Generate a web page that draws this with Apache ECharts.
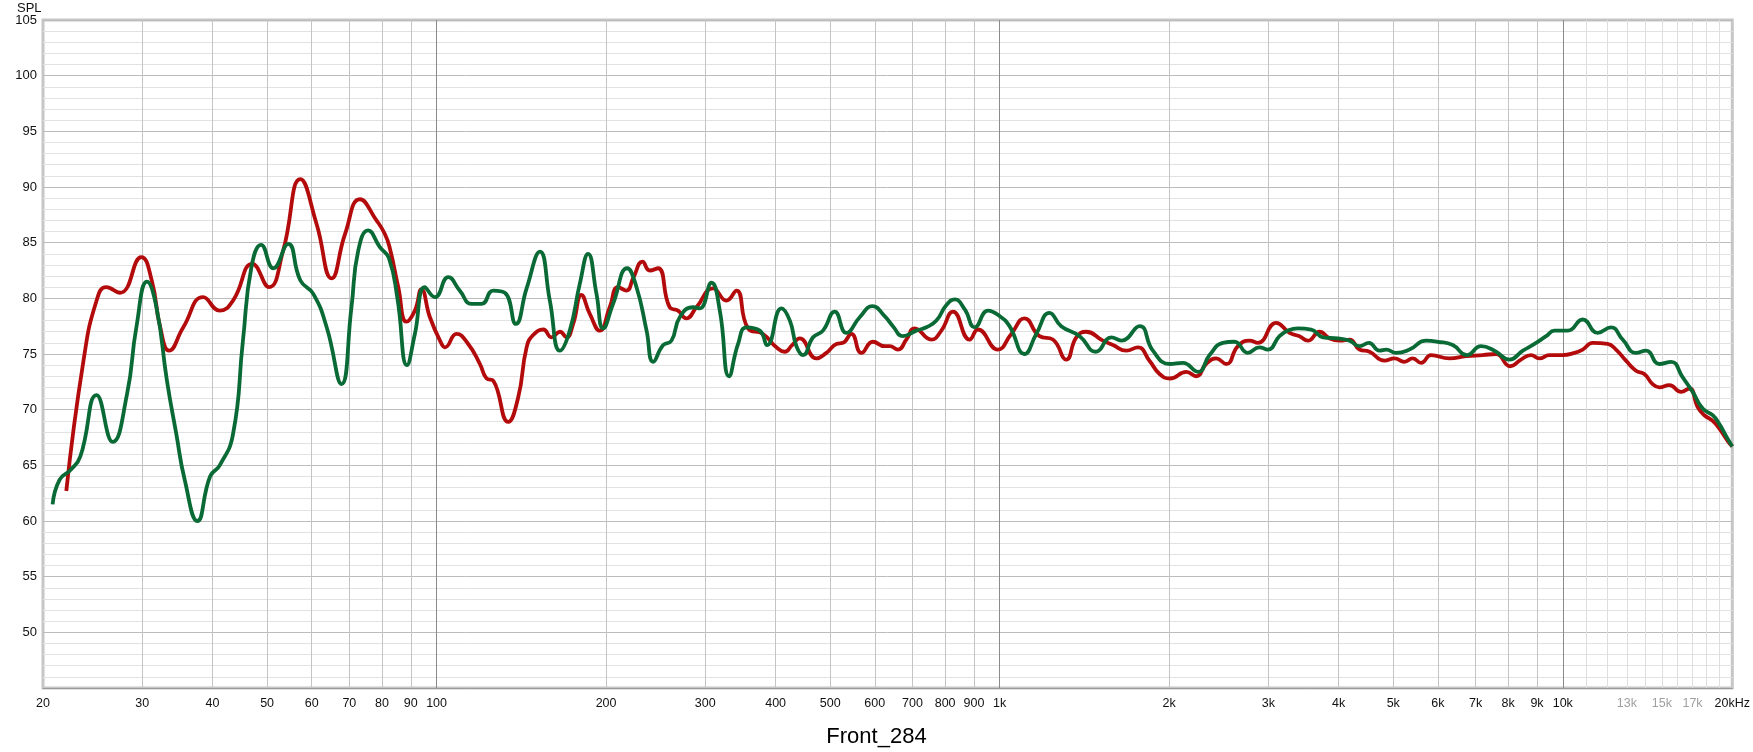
<!DOCTYPE html>
<html>
<head>
<meta charset="utf-8">
<script src="https://cdn.jsdelivr.net/npm/echarts@6/dist/echarts.min.js"></script>
<style>
  html, body { margin: 0; padding: 0; background: #ffffff; }
  #chart { width: 1753px; height: 752px; }
</style>
</head>
<body>
<div id="chart"></div>
<script>
// ---- data ----
const redFreq = [22.0,23.6,24.9,25.9,27.4,29.9,31.2,32.3,33.5,35.5,38.5,41.2,43.5,47.1,50.4,53.4,57.3,61.2,65.1,68.8,73.1,78.2,80.9,82.6,85.5,88.4,91.5,94.0,97.3,101.4,103.5,108.5,113.8,119.4,122.7,126.1,134.0,139.6,144.5,148.4,154.7,160.0,165.6,170.1,174.8,180.8,187.1,194.9,203,210,217.4,223.4,232.1,239.1,247.3,259.4,268.4,277.7,289.4,309.7,327.1,340.8,357.4,379.9,401.3,415.2,428,441.5,472.6,492.3,513,526.9,545.2,568,595.6,624.7,637.6,659.6,682.8,706.3,756.2,787.8,826.1,884.5,915,992.6,1048.6,1107,1177,1242.7,1313,1368,1425,1525,1589,1678,1760,1845,1923,2006,2145,2234,2326,2424,2525,2649,2777,2874,3098,3272,3408,3526,3699,3854,4014,4181,4355,4537,4823,5024,5233,5415,5603,5837,6291,6735,7208,7611,8068,8429,8781,9086,9465,9995,10486,10849,11303,12014,12430,12950,13490,13957,14440,14840,15460,16220,16780,17370,17840,18460,18970,19620,20000];
const redSpl = [62.7,74.4,79.8,81.0,80.5,83.7,81.6,77.4,75.3,77.4,80.1,78.9,79.8,83.1,81.0,84.3,90.7,86.7,81.8,85.8,88.9,87.0,85.8,84.5,81.0,77.9,78.9,80.8,78.3,76.2,75.6,76.8,75.9,74.1,72.8,72.6,68.9,71.1,75.6,76.7,77.2,76.5,77.0,76.5,77.7,80.3,78.6,77.1,79.2,81.0,80.7,81.8,83.3,82.5,82.7,79.2,78.9,78.2,79.2,80.9,79.8,80.7,77.3,76.8,75.6,75.2,75.8,76.4,74.6,75.1,75.9,76.0,76.8,75.1,76.1,75.7,75.7,75.4,76.3,77.3,76.3,77.1,78.8,76.3,77.2,75.4,76.8,78.2,76.6,76.3,74.5,76.5,77.0,76.2,75.8,75.3,75.6,74.4,73.2,72.8,73.4,73.0,74.1,74.6,74.1,75.7,76.2,76.0,77.8,76.9,76.6,76.2,77.0,76.4,76.2,76.3,75.4,75.2,74.4,74.6,74.3,74.6,74.2,74.9,74.6,74.8,74.9,75.0,73.9,74.5,74.9,74.6,74.9,74.9,75.1,75.4,76.0,75.9,75.4,74.4,73.5,73.2,72.3,72.0,72.2,71.6,71.9,70.2,69.5,69.0,68.3,67.2,66.7];

const greenFreq = [20.8,21.4,22.4,23.3,24.9,26.6,28.2,29.3,30.6,31.8,33.2,34.5,35.7,37.6,39.6,41.2,43.5,45.3,46.9,48.8,51.3,54.5,57.3,60.4,63.8,67.8,70.6,72.6,75.6,79.3,82.3,85.2,88.6,91.5,95.3,99.3,104.9,109.9,115.4,120.2,126.1,132.2,138.3,144.5,152.6,158.9,165.6,172.4,179.6,185.8,192.3,197.6,205.8,218,226.5,236,242.5,252.6,261.3,270.3,285.5,293.4,307.7,318.4,330.7,343.1,355.1,375,386.4,409.7,424,435.6,447.6,466.2,485.5,509.3,534.2,564.2,594.3,624.7,646.2,673.2,711.2,741,772,804.3,832,867,903,953.6,1000,1041,1107,1161.5,1226,1286,1387,1481,1579,1645,1773,1871,2006,2115,2250,2359,2491,2612,2759,2893,2993,3140,3249,3385,3575,3750,3988,4181,4355,4525,4726,4856,5058,5343,5715,5997,6377,6755,7160,7562,8038,8493,8907,9342,9665,10208,10849,11535,12179,12773,13490,14053,14840,15570,16330,17010,17720,18460,18970,19620,20000];
const greenSpl = [61.5,63.7,64.6,65.8,71.3,67.1,71.4,77.4,81.5,79.2,72.6,67.8,63.7,60.0,64.0,65.0,67.8,76.2,82.8,84.8,82.7,84.9,81.6,80.4,77.4,72.3,79.2,84.3,86.1,84.6,83.6,80.0,74.0,76.8,81.0,80.1,81.9,80.7,79.5,79.5,80.7,80.5,77.7,80.9,84.2,79.8,75.3,77.1,81.3,84.0,80.4,77.3,79.5,82.7,81.0,77.1,74.3,75.8,76.2,78.3,79.2,79.1,81.4,78.9,73.0,75.9,77.4,77.1,75.8,79.1,78.0,75.7,74.9,76.5,77.1,78.8,76.9,78.3,79.3,78.4,77.5,76.6,77.1,77.4,78.0,79.4,79.9,79.0,77.4,78.9,78.4,77.5,75.0,76.8,78.7,77.5,76.6,75.2,76.5,76.2,77.5,75.3,74.1,74.2,73.4,74.9,76.0,76.1,75.1,75.6,75.4,76.6,77.1,77.3,77.2,76.5,76.4,76.2,75.7,76.0,75.3,75.4,75.1,75.4,76.2,76.1,75.8,74.9,75.7,75.3,74.5,75.3,75.9,76.6,77.1,77.1,78.1,76.9,77.4,76.3,75.1,75.3,74.1,74.3,72.9,71.6,70.1,69.5,68.7,67.4,66.7];

const xLabelFreqs = [20,30,40,50,60,70,80,90,100,200,300,400,500,600,700,800,900,1000,2000,3000,4000,5000,6000,7000,8000,9000,10000,13000,15000,17000,20000];
const greyLabelFreqs = [13000,15000,17000];
const gridFreqs = [30,40,50,60,70,80,90,200,300,400,500,600,700,800,900,2000,3000,4000,5000,6000,7000,8000,9000];
const decadeFreqs = [100,1000,10000];
const fineFreqs = [11000,12000,13000,14000,15000,16000,17000,18000,19000];
const yMin = 45, yMax = 105, yStep = 5;

// ---- build ----
const zip = (a, b) => a.map((f, i) => [f, b[i]]);
const fmtFreq = v => {
  const f = Math.round(v);
  let s;
  if (f >= 20000) return '{b|20kHz}';
  if (f >= 1000) s = (f / 1000) + 'k'; else s = String(f);
  return greyLabelFreqs.includes(f) ? '{g|' + s + '}' : '{b|' + s + '}';
};
const vLines = []
  .concat(gridFreqs.map(f => ({ xAxis: f, lineStyle: { color: '#c4c4c4', width: 1, type: 'solid' } })))
  .concat(decadeFreqs.map(f => ({ xAxis: f, lineStyle: { color: '#8a8a8a', width: 1, type: 'solid' } })))
  .concat(fineFreqs.map(f => ({ xAxis: f, lineStyle: { color: '#dedede', width: 1, type: 'solid' } })));

const font = "'Liberation Sans', Arial, sans-serif";
const chart = echarts.init(document.getElementById('chart'), null, { renderer: 'canvas' });
chart.setOption({
  animation: false,
  backgroundColor: '#ffffff',
  title: {
    text: 'Front_284', left: 'center', top: 721,
    textStyle: { fontSize: 22, fontWeight: 'normal', color: '#000', fontFamily: font }
  },
  graphic: [{
    type: 'text', left: 17, top: 2,
    style: { text: 'SPL', fontSize: 13, fill: '#111', fontFamily: font }
  }],
  grid: {
    left: 43, right: 20, top: 20, bottom: 64,
    show: true, borderColor: '#c6c6c6', borderWidth: 3, backgroundColor: '#ffffff'
  },
  xAxis: {
    type: 'log', logBase: 10, min: 20, max: 20000,
    axisLine: { show: true, onZero: false, lineStyle: { color: '#9a9a9a', width: 1 } },
    axisTick: { show: false },
    splitLine: { show: false },
    minorTick: { show: false },
    minorSplitLine: { show: false },
    axisLabel: {
      customValues: xLabelFreqs,
      margin: 9,
      formatter: fmtFreq,
      rich: {
        b: { color: '#111', fontSize: 12.5, fontFamily: font },
        g: { color: '#a0a0a0', fontSize: 12.5, fontFamily: font }
      }
    }
  },
  yAxis: {
    type: 'value', min: yMin, max: yMax, interval: yStep,
    axisLine: { show: false },
    axisTick: { show: false },
    axisLabel: {
      showMinLabel: false, margin: 6, color: '#111', fontSize: 13, fontFamily: font
    },
    splitLine: { show: true, lineStyle: { color: '#bcbcbc', width: 1 } },
    minorTick: { show: false, splitNumber: 5 },
    minorSplitLine: { show: true, lineStyle: { color: '#e2e2e2', width: 1 } }
  },
  series: [
    {
      name: 'grid', type: 'line', data: [], z: 1, silent: true,
      markLine: {
        silent: true, z: 1, symbol: ['none', 'none'], animation: false,
        label: { show: false }, emphasis: { disabled: true },
        data: vLines
      }
    },
    {
      name: 'red', type: 'line', data: zip(redFreq, redSpl), z: 3,
      showSymbol: false, symbol: 'none', smooth: 0.5,
      lineStyle: { color: '#b30b0b', width: 3.8 }, silent: true
    },
    {
      name: 'green', type: 'line', data: zip(greenFreq, greenSpl), z: 4,
      showSymbol: false, symbol: 'none', smooth: 0.5,
      lineStyle: { color: '#0a6a36', width: 3.8 }, silent: true
    }
  ]
});
</script>
</body>
</html>
